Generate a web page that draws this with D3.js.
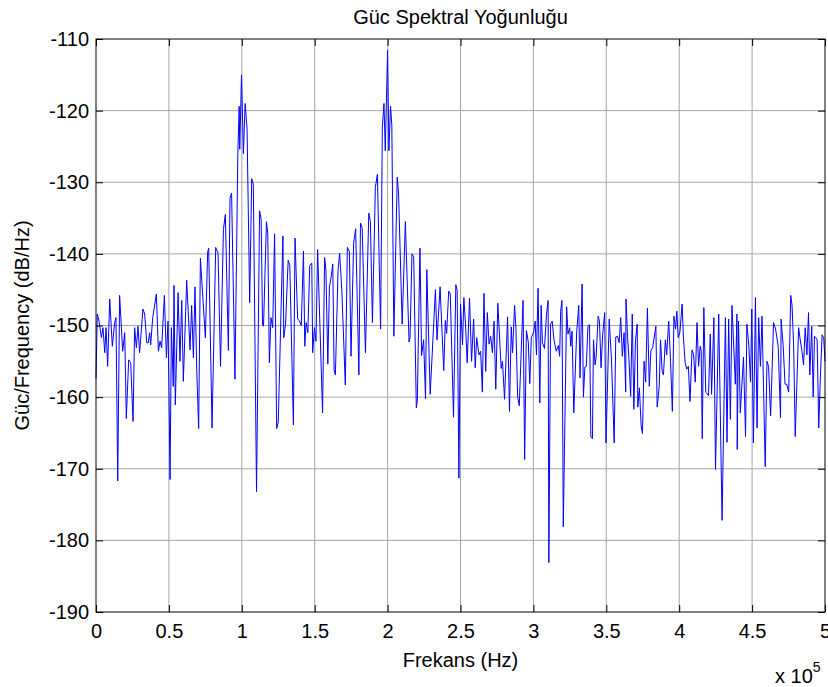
<!DOCTYPE html>
<html>
<head>
<meta charset="utf-8">
<script src="https://cdn.jsdelivr.net/npm/d3@7"></script>
<style>
  body { margin: 0; background: #fff; }
  svg text { font-family: "Liberation Sans", Arial, sans-serif; fill: #000; }
</style>
</head>
<body>
<div id="chart"></div>
<script>
// frequency (kHz) and PSD (dB/Hz)
const freqKHz = [
  0, 0.9, 2.1, 3.7, 4.8, 6.0, 6.9, 8.0, 9.4, 11.2, 12.8, 13.7, 14.9, 16.2, 18.3, 19.7, 20.8, 22.4, 23.8, 25.4,
  26.5, 27.7, 28.8, 29.9, 32.2, 33.4, 34.8, 35.9, 36.8, 37.5, 38.9, 41.4, 42.8, 43.9, 45.0, 46.9, 48.3, 49.4, 50.8, 51.7,
  53.0, 53.5, 54.4, 56.3, 57.6, 58.8, 59.9, 62.2, 64.5, 65.6, 66.8, 67.9, 69.1, 70.4, 71.6, 75.0, 76.6, 77.3, 79.6, 82.1,
  83.7, 85.4, 87.4, 88.7, 90.8, 91.9, 93.0, 95.3, 97.3, 98.2, 98.6, 99.8, 101.1, 102.3, 103.6, 105.4, 106.8, 107.9, 110.1, 112.2,
  113.3, 114.2, 114.9, 116.9, 117.8, 118.9, 120.0, 121.2, 122.5, 123.9, 125.0, 128.2, 128.8, 130.0, 131.8, 132.9, 135.4, 136.5, 138.3, 139.4,
  140.8, 142.3, 143.2, 144.1, 145.3, 146.6, 148.0, 148.6, 149.8, 150.9, 152.0, 155.4, 156.8, 157.7, 159.0, 160.1, 161.3, 162.4, 163.3, 164.2,
  166.0, 167.1, 168.6, 171.0, 172.4, 173.8, 174.9, 176.7, 178.1, 180.3, 181.4, 182.6, 184.8, 187.1, 188.2, 189.6, 191.6, 193.0, 195.2, 196.4,
  197.5, 198.4, 200.0, 200.9, 202.0, 202.9, 204.3, 206.6, 207.5, 210.0, 212.2, 214.7, 215.4, 216.7, 217.9, 219.7, 220.4, 222.2, 223.3, 224.7,
  226.0, 226.9, 229.2, 232.8, 233.9, 236.0, 238.5, 239.6, 240.5, 241.9, 243.0, 245.2, 246.8, 247.7, 248.9, 250.0,
  251.4, 252.3, 253.5, 254.6, 256.2, 257.6, 259.0, 260.1, 261.1, 262.7, 263.8, 265.0, 266.1, 267.3, 268.4, 269.6, 270.7, 271.9, 273.0, 274.2,
  275.6, 277.9, 278.8, 280.2, 282.3, 283.6, 284.8, 285.7, 287.1, 288.0, 289.2, 290.3, 292.9, 294.0, 295.2, 296.5, 297.5, 298.6, 300.2, 301.2,
  302.1, 303.2, 304.4, 305.3, 306.2, 307.6, 309.0, 310.1, 310.6, 311.8, 312.9, 314.1, 315.7, 317.1, 318.0, 318.7, 319.6, 320.5, 322.8, 323.7,
  324.9, 325.6, 326.5, 327.7, 329.7, 331.1, 332.0, 333.4, 334.3, 335.3,
  336.3, 337.4, 338.5, 339.4, 340.5, 341.2, 342.3, 343.0, 344.4, 345.3, 346.4, 347.5, 348.9, 349.8, 352.0, 353.6, 355.4, 356.5, 357.7, 358.8,
  359.9, 361.0, 362.2, 363.3, 363.5, 364.6, 365.5, 366.7, 367.8, 368.9, 370.0, 371.2, 371.6, 372.7, 373.9, 374.8, 375.9, 377.0, 378.2, 379.5,
  380.6, 381.8, 384.0, 384.9, 386.3, 387.2, 388.3, 389.2, 390.5, 391.4, 392.8, 394.1, 395.3, 396.4, 397.5, 398.4, 399.3, 400.5, 402.0, 402.9,
  404.1, 405.2, 406.3, 407.4, 408.8, 409.9, 411.0, 412.2, 413.3, 414.4, 415.1, 415.8, 416.9, 418.2,
  420.1, 421.3, 422.2, 423.8, 424.9, 427.1, 429.4, 431.7, 432.8, 433.9, 435.1, 436.2, 438.5, 439.6, 439.8, 440.7, 441.9, 444.1, 445.5, 446.4,
  447.7, 448.9, 449.8, 450.9, 452.3, 453.4, 454.5, 455.7, 456.8, 459.0, 460.2, 461.3, 462.7, 464.7, 466.1, 467.9, 469.5, 469.9, 471.3, 472.6,
  473.8, 475.1, 476.5, 477.4, 478.5, 479.6, 481.9, 482.8, 484.2, 485.3, 486.4, 487.6, 488.7, 489.6, 490.9, 491.9, 492.8, 493.7, 494.6, 495.7,
  496.8, 498.0, 499.1, 500.0
];
const psdDb = [
  -157.4, -148.4, -149.4, -151.7, -150.3, -153.8, -150.3, -155.7, -146.3, -152.9, -149.6, -148.9, -171.7, -145.8, -153.6, -151.0, -163.0, -154.8, -155.2, -163.4,
  -150.3, -153.1, -150.1, -153.8, -147.7, -148.4, -152.4, -152.4, -151.0, -152.7, -148.9, -145.6, -153.6, -152.2, -153.1, -145.8, -154.5, -149.4, -171.5, -150.3,
  -158.5, -144.4, -161.1, -145.4, -155.0, -146.5, -157.8, -143.7, -153.4, -147.2, -154.5, -144.6, -156.2, -164.4, -140.6, -151.7, -139.7, -139.2, -164.3, -139.1,
  -139.9, -155.7, -136.6, -134.5, -153.5, -132.2, -131.5, -157.5, -125.8, -119.4, -125.4, -115.0, -126.0, -119.0, -122.5, -146.8, -129.5, -130.3, -173.2, -134.0,
  -135.2, -149.8, -150.1, -135.5, -137.1, -155.2, -148.9, -150.3, -137.2, -164.4, -163.5, -137.5, -151.7, -149.8, -140.9, -141.6, -163.9, -137.8, -149.1, -149.3,
  -150.0, -139.6, -152.9, -149.6, -151.0, -141.6, -141.3, -153.8, -150.3, -152.2, -139.4, -162.2, -140.5, -142.3, -155.4, -144.6, -143.2, -141.4, -156.2, -156.9,
  -142.3, -139.9, -145.1, -158.3, -139.1, -139.7, -154.3, -138.5, -136.5, -156.9, -135.7, -136.4, -153.8, -134.3, -135.5, -149.6, -130.7, -128.9, -150.5, -122.3,
  -119.0, -125.6, -111.6, -125.6, -119.4, -122.0, -151.5, -129.3, -131.5, -149.8, -135.5, -152.3, -151.7, -140.0, -140.4, -161.5, -160.4, -139.2, -154.2, -152.0,
  -160.2, -142.2, -159.6, -145.0, -152.0, -144.6, -156.3, -149.3, -151.1, -145.2, -145.6, -162.8, -144.3, -145.1, -171.3, -147.0,
  -152.7, -146.1, -150.1, -155.2, -146.2, -155.0, -149.1, -155.9, -151.7, -154.1, -153.6, -159.3, -145.5, -156.4, -148.2, -152.6, -151.5, -153.8, -149.4, -158.9,
  -146.9, -156.0, -155.0, -160.3, -148.8, -162.0, -150.2, -153.8, -147.2, -150.3, -160.0, -161.2, -146.5, -168.7, -150.7, -152.3, -158.1, -151.7, -150.9, -149.4,
  -154.1, -144.8, -160.8, -147.2, -152.4, -153.2, -148.4, -146.5, -183.1, -149.8, -149.4, -152.0, -153.6, -152.8, -154.3, -148.0, -146.5, -178.1, -147.4, -151.2,
  -150.3, -152.9, -150.8, -162.2, -150.9, -147.2, -157.3, -144.2, -160.0, -155.8,
  -155.7, -150.1, -149.9, -165.5, -165.8, -152.0, -155.5, -154.5, -148.7, -149.4, -155.9, -151.3, -148.2, -166.4, -149.1, -155.0, -166.4, -151.6, -151.5, -152.4,
  -148.9, -154.3, -151.0, -159.3, -146.3, -151.7, -154.5, -159.9, -148.4, -161.7, -152.2, -149.8, -161.4, -158.7, -164.0, -165.1, -155.0, -157.9, -147.6, -158.5,
  -153.5, -153.1, -150.1, -161.4, -158.5, -152.0, -156.4, -156.9, -152.0, -154.1, -149.4, -155.2, -162.0, -148.7, -150.5, -148.0, -151.7, -150.9, -147.0, -151.7,
  -155.2, -156.1, -155.7, -160.6, -153.4, -154.1, -157.9, -149.6, -155.7, -152.9, -153.6, -165.8, -147.5, -159.3,
  -159.8, -151.2, -159.6, -148.9, -170.1, -148.4, -177.2, -148.9, -166.3, -149.1, -163.1, -147.2, -158.2, -148.4, -167.3, -149.4, -162.2, -154.4, -165.5, -149.8,
  -152.6, -157.9, -147.7, -166.4, -146.1, -164.3, -148.9, -155.7, -148.7, -169.7, -155.0, -155.7, -162.6, -149.6, -150.5, -152.9, -162.9, -149.1, -152.8, -158.2,
  -158.2, -159.3, -145.8, -147.2, -152.9, -165.5, -150.3, -151.7, -153.6, -155.5, -150.3, -154.1, -148.2, -156.9, -150.1, -160.0, -151.5, -151.7, -152.0, -164.3,
  -157.4, -151.3, -151.7, -155.0
];

const xTicks = [0, 50000, 100000, 150000, 200000, 250000, 300000, 350000, 400000, 450000, 500000];
const xTickLabels = ["0", "0.5", "1", "1.5", "2", "2.5", "3", "3.5", "4", "4.5", "5"];
const yTicks = [-190, -180, -170, -160, -150, -140, -130, -120, -110];

const width = 828, height = 687;
const margin = {left: 96, top: 39, right: 3, bottom: 75};
const fontSize = 20;

const svg = d3.select("#chart").append("svg")
    .attr("width", width)
    .attr("height", height);

const x = d3.scaleLinear().domain([0, 500000]).range([margin.left, width - margin.right]);
const y = d3.scaleLinear().domain([-190, -110]).range([height - margin.bottom, margin.top]);

// grid
svg.append("g").selectAll("line")
    .data(xTicks.slice(1, -1))
    .enter().append("line")
    .attr("x1", d => x(d)).attr("x2", d => x(d))
    .attr("y1", y(-190)).attr("y2", y(-110))
    .attr("stroke", "#a6a6a6").attr("stroke-width", 1);

svg.append("g").selectAll("line")
    .data(yTicks.slice(1, -1))
    .enter().append("line")
    .attr("x1", x(0)).attr("x2", x(500000))
    .attr("y1", d => y(d)).attr("y2", d => y(d))
    .attr("stroke", "#a6a6a6").attr("stroke-width", 1);

// spectrum
const points = freqKHz.map((f, i) => [f * 1000, psdDb[i]]);
const line = d3.line().x(d => x(d[0])).y(d => y(d[1]));

svg.append("path")
    .datum(points)
    .attr("d", line)
    .attr("fill", "none")
    .attr("stroke", "#0000ff")
    .attr("stroke-width", 1)
    .attr("stroke-linejoin", "round");

// axes, ticks inward on all four sides
const tickLen = 7;
svg.append("g")
    .attr("transform", `translate(0,${y(-190)})`)
    .call(d3.axisBottom(x).tickValues(xTicks).tickSize(-tickLen).tickPadding(12)
        .tickFormat((d, i) => xTickLabels[i]))
    .call(g => g.select(".domain").remove());

svg.append("g")
    .attr("transform", `translate(0,${y(-110)})`)
    .call(d3.axisTop(x).tickValues(xTicks).tickSize(-tickLen).tickFormat(""))
    .call(g => g.select(".domain").remove());

svg.append("g")
    .attr("transform", `translate(${x(0)},0)`)
    .call(d3.axisLeft(y).tickValues(yTicks).tickSize(-tickLen).tickPadding(7)
        .tickFormat(d => String(d)))
    .call(g => g.select(".domain").remove());

svg.append("g")
    .attr("transform", `translate(${x(500000)},0)`)
    .call(d3.axisRight(y).tickValues(yTicks).tickSize(-tickLen).tickFormat(""))
    .call(g => g.select(".domain").remove());

svg.selectAll(".tick line").attr("stroke", "#000");
svg.selectAll(".tick text")
    .style("font-size", fontSize + "px")
    .style("font-family", "'Liberation Sans', Arial, sans-serif")
    .attr("fill", "#000");

svg.append("rect")
    .attr("x", x(0)).attr("y", y(-110))
    .attr("width", x(500000) - x(0))
    .attr("height", y(-190) - y(-110))
    .attr("fill", "none")
    .attr("stroke", "#000")
    .attr("stroke-width", 1);

// labels
svg.append("text")
    .attr("x", (x(0) + x(500000)) / 2)
    .attr("y", 24)
    .attr("text-anchor", "middle")
    .style("font-size", fontSize + "px")
    .text("Güc Spektral Yoğunluğu");

svg.append("text")
    .attr("x", (x(0) + x(500000)) / 2)
    .attr("y", 667)
    .attr("text-anchor", "middle")
    .style("font-size", fontSize + "px")
    .text("Frekans (Hz)");

svg.append("text")
    .attr("transform", `translate(29,${(y(-110) + y(-190)) / 2}) rotate(-90)`)
    .attr("text-anchor", "middle")
    .style("font-size", fontSize + "px")
    .text("Güc/Frequency (dB/Hz)");

const expo = svg.append("text")
    .attr("x", 775)
    .attr("y", 683)
    .style("font-size", fontSize + "px");
expo.append("tspan").text("x 10");
expo.append("tspan")
    .attr("dy", -11)
    .style("font-size", "14px")
    .text("5");
</script>
</body>
</html>
